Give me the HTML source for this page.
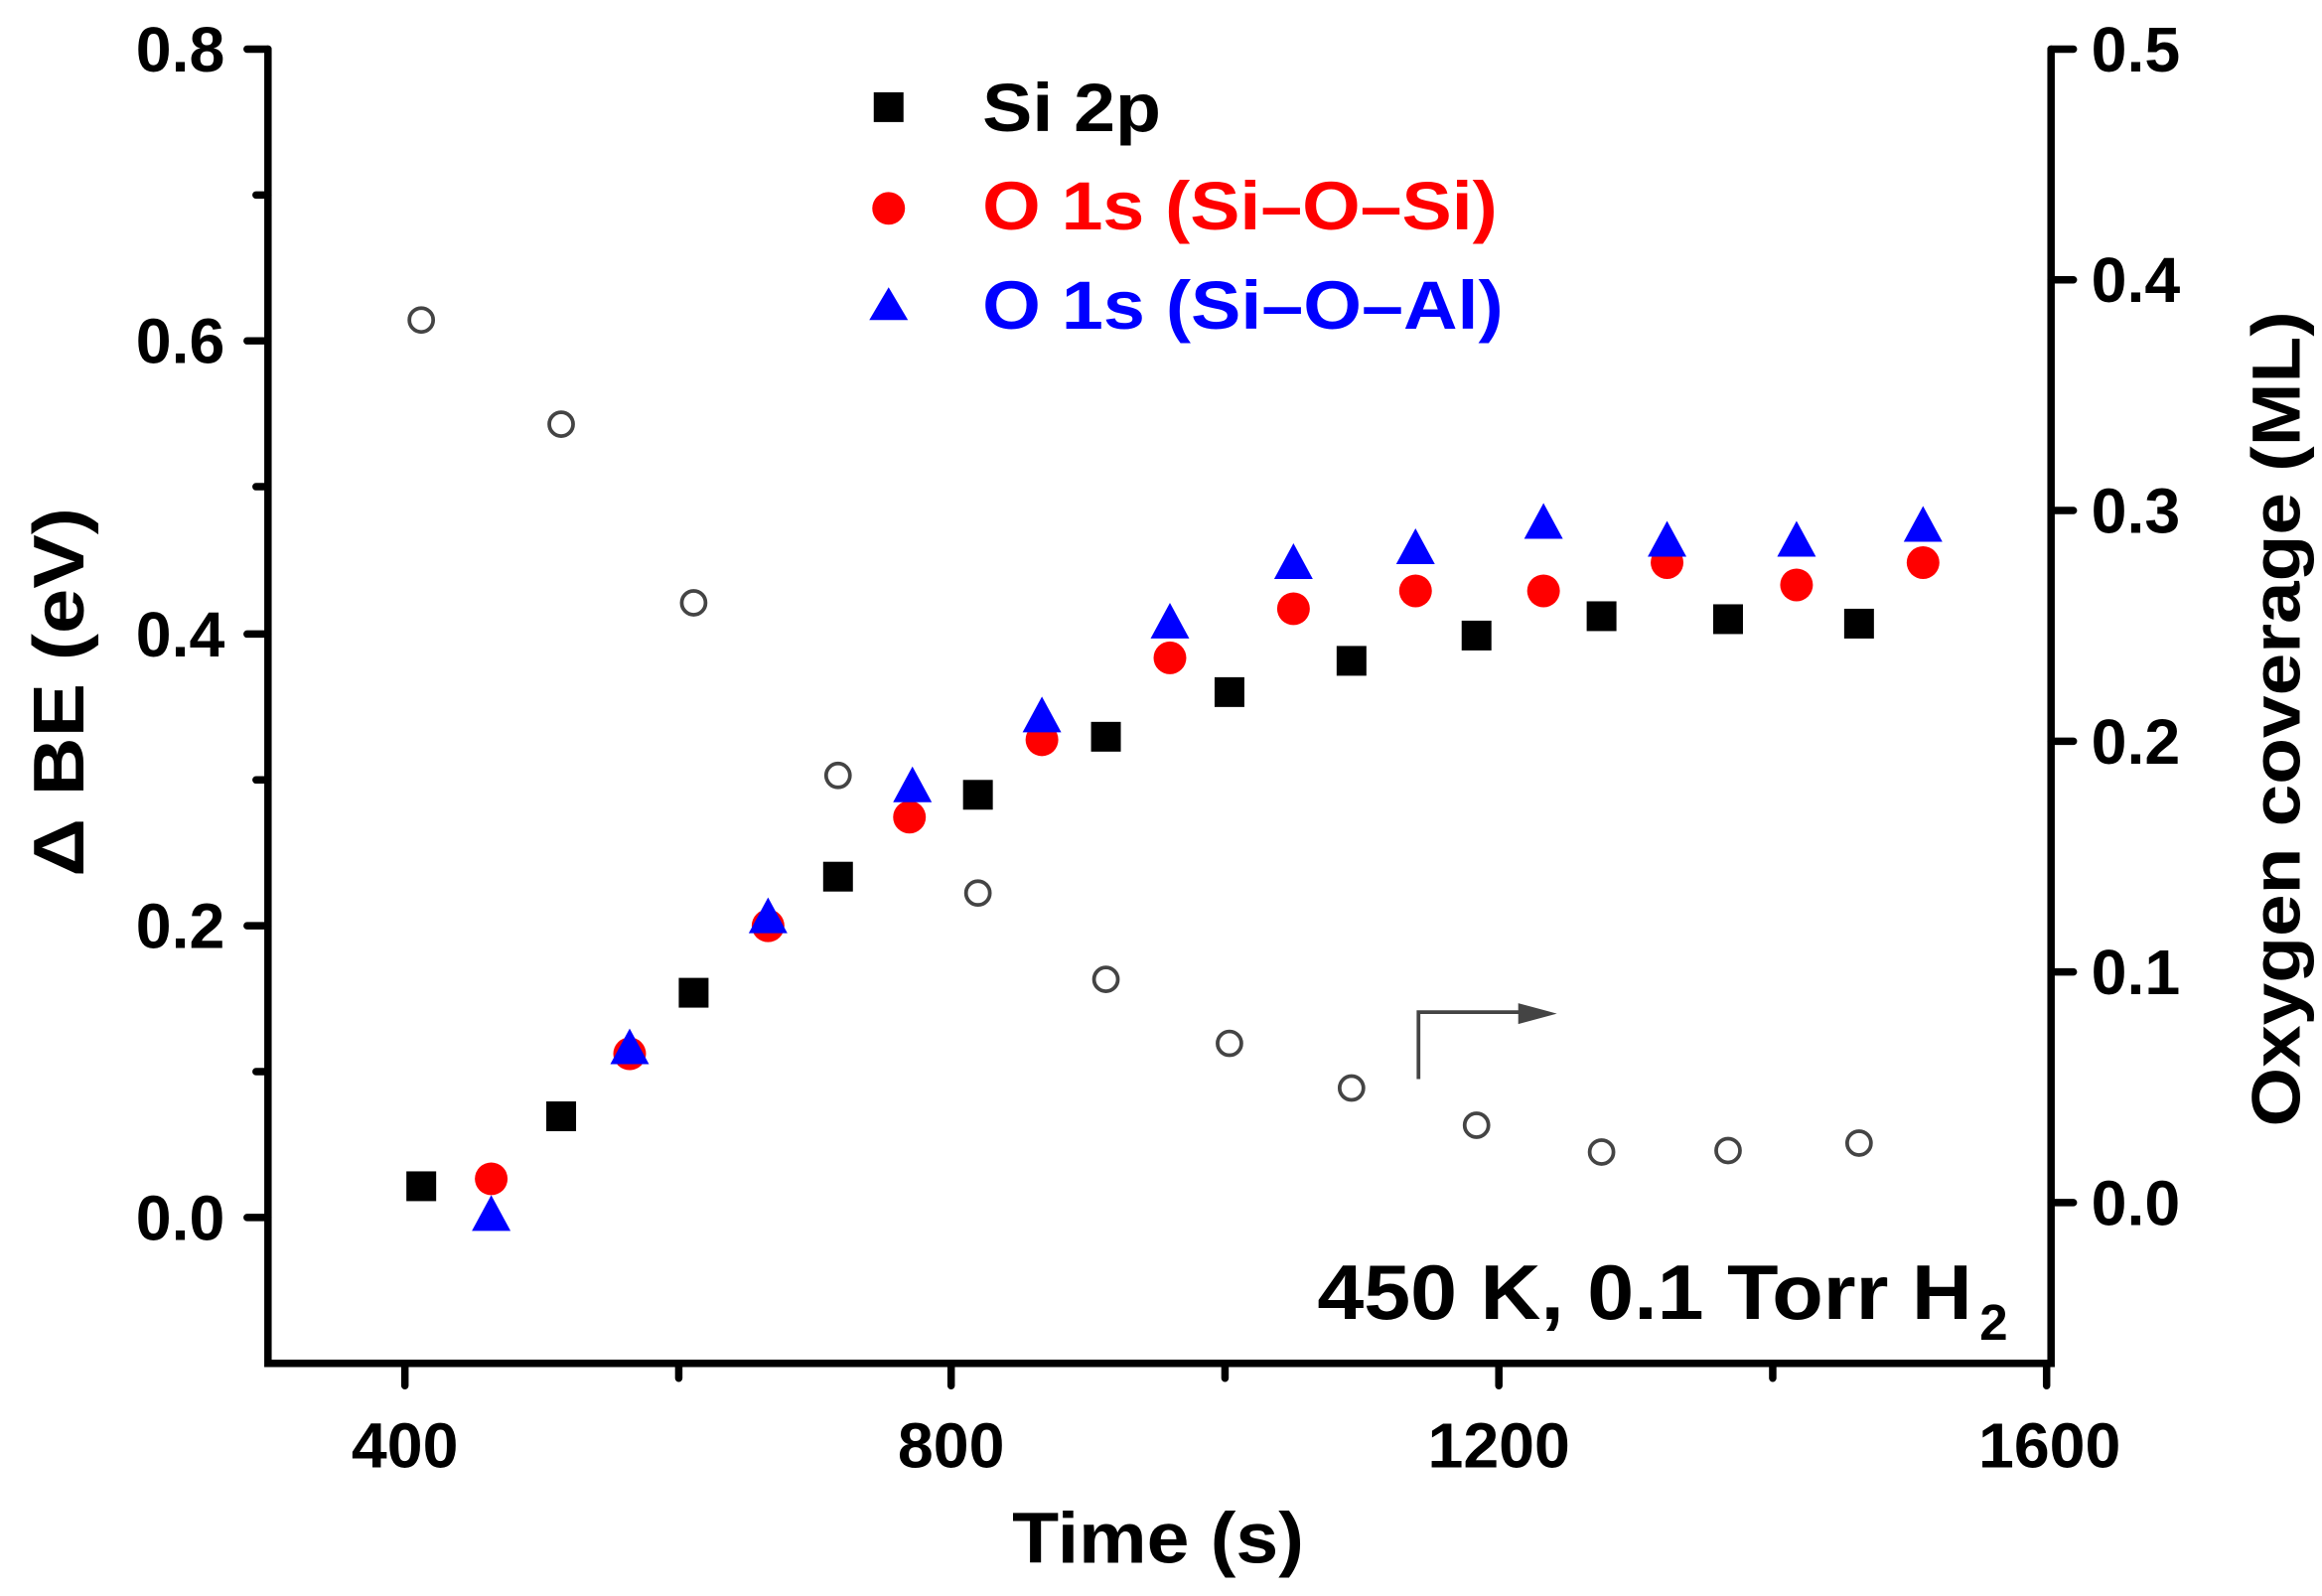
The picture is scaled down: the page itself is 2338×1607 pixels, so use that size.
<!DOCTYPE html>
<html><head><meta charset="utf-8"><style>
html,body{margin:0;padding:0;background:#fff;}
svg{display:block;}
text{font-family:"Liberation Sans",Arial,sans-serif;font-weight:bold;}
</style></head><body>
<svg width="2338" height="1607" viewBox="0 0 1560 1072.3" xmlns="http://www.w3.org/2000/svg">
<g stroke="#000" stroke-width="5" stroke-linecap="round" fill="none">
<path d="M180,33 L180,916 L1378,916 L1378,33"/>
<path d="M166,33H180 M172,131H180 M166,229H180 M172,327H180 M166,426H180 M172,524H180 M166,622H180 M172,720H180 M166,818H180"/>
<path d="M1378,33H1393 M1378,188H1393 M1378,343H1393 M1378,498H1393 M1378,653H1393 M1378,808H1393"/>
<path d="M272,916V931 M456,916V926 M639,916V931 M823,916V926 M1007,916V931 M1191,916V926 M1375,916V931"/>
</g>
<g font-size="43" fill="#000" text-anchor="end">
<text x="151" y="48">0.8</text>
<text x="151" y="244">0.6</text>
<text x="151" y="441">0.4</text>
<text x="151" y="637">0.2</text>
<text x="151" y="833">0.0</text>
</g>
<g font-size="43" fill="#000" text-anchor="start">
<text x="1405" y="48">0.5</text>
<text x="1405" y="203">0.4</text>
<text x="1405" y="358">0.3</text>
<text x="1405" y="513">0.2</text>
<text x="1405" y="668">0.1</text>
<text x="1405" y="823">0.0</text>
</g>
<g font-size="43" fill="#000" text-anchor="middle">
<text x="272" y="986">400</text>
<text x="639" y="986">800</text>
<text x="1007" y="986">1200</text>
<text x="1377" y="986">1600</text>
</g>
<text x="778" y="1050" font-size="48" text-anchor="middle" textLength="196" lengthAdjust="spacingAndGlyphs">Time (s)</text>
<text transform="translate(56,465) rotate(-90)" font-size="48" text-anchor="middle" textLength="248" lengthAdjust="spacingAndGlyphs">Δ BE (eV)</text>
<text transform="translate(1545,483) rotate(-90)" font-size="46" text-anchor="middle" textLength="548" lengthAdjust="spacingAndGlyphs">Oxygen coverage (ML)</text>
<text x="885" y="886" font-size="52" textLength="440" lengthAdjust="spacingAndGlyphs">450 K, 0.1 Torr H</text>
<text x="1330" y="900" font-size="34">2</text>
<rect x="587" y="62" width="20" height="20" fill="#000"/>
<text x="660" y="88" font-size="46" textLength="120" lengthAdjust="spacingAndGlyphs">Si 2p</text>
<circle cx="597" cy="140" r="11" fill="#f00"/>
<text x="660" y="154" font-size="46" fill="#f00" textLength="346" lengthAdjust="spacingAndGlyphs">O 1s (Si–O–Si)</text>
<path d="M597,193 L610,215 L584,215 Z" fill="#00f"/>
<text x="660" y="221" font-size="46" fill="#00f" textLength="350" lengthAdjust="spacingAndGlyphs">O 1s (Si–O–Al)</text>
<path d="M953,725 V680 H1025" stroke="#444" stroke-width="2.5" fill="none"/>
<path d="M1020,674 L1046,681 L1020,688 Z" fill="#444"/>
<g fill="none" stroke="#444" stroke-width="2.5">
<circle cx="283" cy="215" r="8"/><circle cx="377" cy="285" r="8"/><circle cx="466" cy="405" r="8"/>
<circle cx="563" cy="521" r="8"/><circle cx="657" cy="600" r="8"/><circle cx="743" cy="658" r="8"/>
<circle cx="826" cy="701" r="8"/><circle cx="908" cy="731" r="8"/><circle cx="992" cy="756" r="8"/>
<circle cx="1076" cy="774" r="8"/><circle cx="1161" cy="773" r="8"/><circle cx="1249" cy="768" r="8"/>
</g>
<g fill="#000">
<rect x="273" y="787" width="20" height="20"/><rect x="367" y="740" width="20" height="20"/>
<rect x="456" y="657" width="20" height="20"/><rect x="553" y="579" width="20" height="20"/>
<rect x="647" y="524" width="20" height="20"/><rect x="733" y="485" width="20" height="20"/>
<rect x="816" y="455" width="20" height="20"/><rect x="898" y="434" width="20" height="20"/>
<rect x="982" y="417" width="20" height="20"/><rect x="1066" y="404" width="20" height="20"/>
<rect x="1151" y="406" width="20" height="20"/><rect x="1239" y="409" width="20" height="20"/>
</g>
<g fill="#f00">
<circle cx="330" cy="792" r="11"/><circle cx="423" cy="708" r="11"/><circle cx="516" cy="622" r="11"/>
<circle cx="611" cy="549" r="11"/><circle cx="700" cy="497" r="11"/><circle cx="786" cy="442" r="11"/>
<circle cx="869" cy="409" r="11"/><circle cx="951" cy="397" r="11"/><circle cx="1037" cy="397" r="11"/>
<circle cx="1120" cy="378" r="11"/><circle cx="1207" cy="393" r="11"/><circle cx="1292" cy="378" r="11"/>
</g>
<g fill="#00f">
<path d="M330,803 l13,24 h-26 Z"/><path d="M423,691 l13,24 h-26 Z"/><path d="M516,603 l13,24 h-26 Z"/>
<path d="M613,515 l13,24 h-26 Z"/><path d="M700,468 l13,24 h-26 Z"/><path d="M786,405 l13,24 h-26 Z"/>
<path d="M869,365 l13,24 h-26 Z"/><path d="M951,355 l13,24 h-26 Z"/><path d="M1037,338 l13,24 h-26 Z"/>
<path d="M1120,350 l13,24 h-26 Z"/><path d="M1207,350 l13,24 h-26 Z"/><path d="M1292,340 l13,24 h-26 Z"/>
</g>
</svg>
</body></html>
